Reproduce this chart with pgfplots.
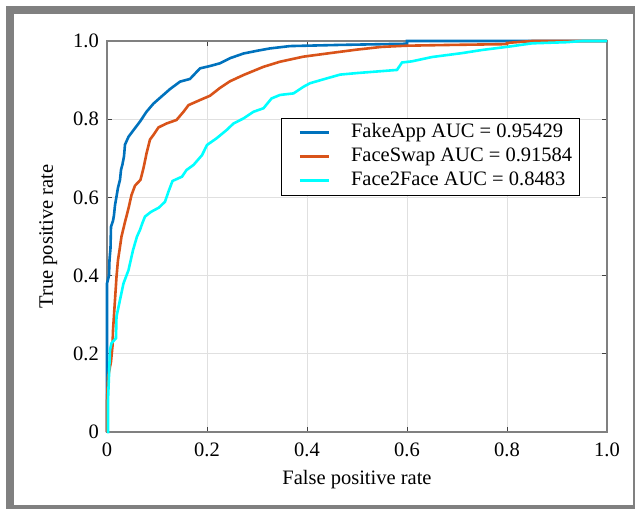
\documentclass[border=0pt]{standalone}
\usepackage{pgfplots}
\pgfplotsset{compat=1.18}
\usepackage{fontspec}
\setmainfont{Liberation Serif}
\definecolor{mblue}{HTML}{0072BD}
\definecolor{morange}{HTML}{D95319}
\definecolor{mcyan}{HTML}{00FFFF}
\definecolor{framegray}{HTML}{808080}
\newcommand\ff{\fontsize{20.5}{24}\selectfont}
\begin{document}
\begin{tikzpicture}
\fill[white] (0pt,0pt) rectangle (635pt,509pt);
\fill[framegray] (6pt,0pt) rectangle (635pt,503pt);
\fill[white] (14pt,4pt) rectangle (633pt,495pt);
\path[use as bounding box] (0pt,0pt) rectangle (635pt,509pt);
\begin{axis}[
  at={(107pt,77pt)}, anchor=south west,
  scale only axis, width=500pt, height=391pt,
  xmin=0, xmax=1, ymin=0, ymax=1,
  clip=false,
  xtick={0,0.2,0.4,0.6,0.8,1}, xticklabels={0,0.2,0.4,0.6,0.8,1.0},
  ytick={0,0.2,0.4,0.6,0.8,1}, yticklabels={0,0.2,0.4,0.6,0.8,1.0},
  xtick pos=both, ytick pos=both,
  tick align=inside, major tick length=5pt,
  tick style={color=black!75, line width=0.8pt},
  axis line style={color=framegray, line width=1.2pt},
  grid=major, grid style={color=black!12, line width=0.8pt},
  tick label style={font=\ff},
  xticklabel style={anchor=north, inner sep=0pt, yshift=-11pt},
  yticklabel style={anchor=east, inner sep=0pt, xshift=-8pt},
  xlabel={False positive rate},
  xlabel style={at={(axis description cs:0.5,-0.133)}, anchor=base, font=\ff},
  ylabel={True positive rate},
  ylabel style={at={(axis description cs:-0.108,0.5)}, anchor=base, font=\ff},
  legend cell align=left,
  legend style={at={(axis description cs:0.348,0.803)}, anchor=north west,
    draw=black, line width=0.9pt, fill=white, inner xsep=7pt, inner ysep=2.5pt,
    font=\ff, nodes={inner sep=0pt, text height=17pt, text depth=7pt}},
  legend image code/.code={\path (0pt,0pt) (60pt,0pt); \draw[#1, line width=3pt] (10pt,0pt) -- (39pt,0pt);},
]
\addplot[mblue, line width=2.6pt] coordinates {
(0,0) (0,0.38) (0.004,0.40) (0.005,0.44) (0.007,0.47) (0.008,0.525) (0.012,0.54)
(0.014,0.555) (0.016,0.58) (0.019,0.602) (0.022,0.625) (0.026,0.645) (0.028,0.670)
(0.031,0.685) (0.034,0.705) (0.036,0.735) (0.043,0.755) (0.053,0.772) (0.066,0.794)
(0.079,0.819) (0.093,0.840) (0.109,0.858) (0.126,0.877) (0.146,0.896) (0.166,0.903)
(0.186,0.930) (0.206,0.936) (0.226,0.943) (0.246,0.956) (0.273,0.968) (0.30,0.975)
(0.326,0.981) (0.366,0.987) (0.466,0.990) (0.60,0.993) (0.60,1) (1,1)};
\addlegendentry{FakeApp AUC = 0.95429}
\addplot[morange, line width=2.6pt] coordinates {
(0,0) (0,0.08) (0.002,0.14) (0.008,0.18) (0.011,0.22) (0.012,0.26) (0.016,0.338)
(0.019,0.397) (0.022,0.44) (0.025,0.465) (0.029,0.500) (0.036,0.537) (0.043,0.572)
(0.049,0.606) (0.056,0.630) (0.067,0.645) (0.073,0.675) (0.079,0.712) (0.086,0.748)
(0.093,0.760) (0.103,0.779) (0.119,0.789) (0.139,0.798) (0.153,0.819) (0.163,0.836)
(0.186,0.849) (0.206,0.860) (0.226,0.880) (0.246,0.897) (0.273,0.913) (0.313,0.934)
(0.346,0.947) (0.393,0.960) (0.446,0.969) (0.50,0.978) (0.55,0.985) (0.60,0.988)
(0.69,0.990) (0.80,0.992) (0.80,0.995) (0.85,1) (1,1)};
\addlegendentry{FaceSwap AUC = 0.91584}
\addplot[mcyan, line width=2.6pt] coordinates {
(0,0) (0.002,0) (0.002,0.08) (0.006,0.21) (0.009,0.227) (0.018,0.24) (0.019,0.295)
(0.026,0.338) (0.033,0.38) (0.043,0.414) (0.052,0.465) (0.060,0.500) (0.066,0.517)
(0.071,0.535) (0.076,0.551) (0.088,0.563) (0.104,0.574) (0.116,0.589) (0.123,0.615)
(0.131,0.642) (0.150,0.653) (0.159,0.670) (0.173,0.683) (0.190,0.708) (0.200,0.734)
(0.219,0.751) (0.239,0.772) (0.253,0.789) (0.273,0.802) (0.293,0.819) (0.313,0.828)
(0.329,0.853) (0.346,0.862) (0.373,0.866) (0.393,0.883) (0.406,0.892) (0.433,0.902)
(0.466,0.914) (0.50,0.918) (0.55,0.923) (0.58,0.926) (0.59,0.945) (0.61,0.948)
(0.65,0.959) (0.71,0.969) (0.75,0.977) (0.80,0.985) (0.85,0.994) (0.92,0.997)
(0.95,1) (1,1)};
\addlegendentry{Face2Face AUC = 0.8483}
\end{axis}
\end{tikzpicture}
\end{document}
